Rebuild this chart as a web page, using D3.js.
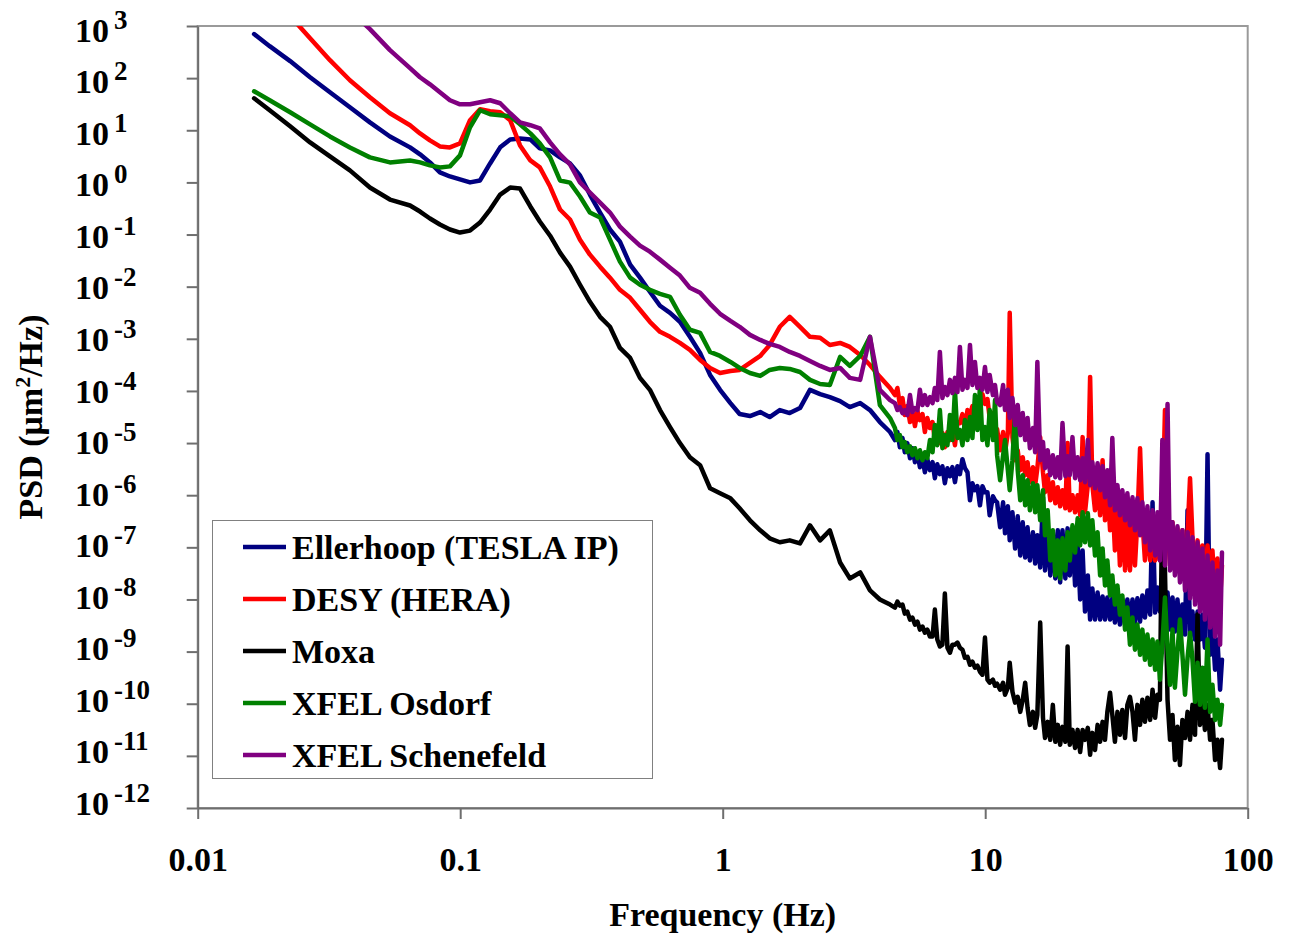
<!DOCTYPE html>
<html>
<head>
<meta charset="utf-8">
<title>PSD</title>
<script src="https://cdn.jsdelivr.net/npm/d3@7"></script>
<style>
  body { margin: 0; background: #fff; }
  svg { display: block; }
  text { font-family: "Times New Roman", "Liberation Serif", serif; font-weight: bold; fill: #000; }
</style>
</head>
<body>
<div id="chart"></div>
<script>
// frequency (Hz), shared by all five series
var freq = [0.0164, 0.0188, 0.0225, 0.0268, 0.0319, 0.038, 0.0453, 0.054, 0.0644, 0.0703,
  0.0767, 0.0837, 0.0914, 0.0998, 0.109, 0.119, 0.130, 0.142, 0.155, 0.169,
  0.185, 0.201, 0.220, 0.240, 0.262, 0.286, 0.312, 0.341, 0.372, 0.406,
  0.444, 0.484, 0.528, 0.577, 0.630, 0.687, 0.750, 0.820, 0.895, 0.977,
  1.07, 1.16, 1.27, 1.39, 1.51, 1.65, 1.80, 1.97, 2.15, 2.35,
  2.56, 2.80, 3.05, 3.34, 3.64, 3.97, 4.34, 4.53, 4.63, 4.73, 4.84, 4.94, 5.05,
  5.17, 5.28, 5.40, 5.52, 5.64, 5.77, 5.89, 6.02, 6.16, 6.30,
  6.43, 6.57, 6.72, 6.87, 7.02, 7.18, 7.34, 7.50, 7.67, 7.84,
  8.01, 8.19, 8.37, 8.56, 8.75, 8.94, 9.14, 9.34, 9.55, 9.76,
  9.98, 10.2, 10.4, 10.7, 10.9, 11.1,
  11.4, 11.7, 11.9, 12.2, 12.4, 12.7, 13.0, 13.3, 13.6, 13.9,
  14.2, 14.5, 14.8, 15.2, 15.5, 15.8, 16.2, 16.6, 16.9, 17.3,
  17.7, 18.1, 18.5, 18.9, 19.3, 19.7, 20.2, 20.6, 21.0, 21.5,
  22.0, 22.5, 23.0, 23.5, 24.0, 24.6, 25.1, 25.6, 26.2, 26.8,
  27.4, 28.0, 28.6, 29.2, 29.9, 30.5, 31.2, 31.9, 32.6, 33.3,
  34.1, 34.8, 35.6, 36.4, 37.2, 38.0, 38.9, 39.7, 40.6, 41.5,
  42.5, 43.4, 44.4, 45.3, 46.3, 47.3, 48.4, 49.5, 50.6, 51.7,
  52.8, 54.0, 55.2, 56.4, 57.7, 59.0, 60.3, 61.6, 63.0, 64.4,
  65.8, 67.2, 68.7, 70.3, 71.9, 73.4, 75.1, 76.7, 78.5, 79.8];

// PSD (um^2/Hz)
var ellerhoopPsd = [700, 410, 212, 104, 53.6, 27.6, 14.2, 7.6, 4.7, 3.45,
  2.42, 1.56, 1.30, 1.14, 1.0, 1.09, 2.31, 4.7, 6.68, 6.98,
  6.68, 4.49, 4.11, 3.02, 2.31, 1.36, 0.585, 0.264, 0.125, 0.073,
  0.0264, 0.0149, 7.97e-3, 4.3e-3, 3.15e-3, 2.12e-3, 1.09e-3, 5.36e-4, 2.03e-4, 1.05e-4,
  5.85e-5, 3.6e-5, 3.3e-5, 3.93e-5, 3.15e-5, 4.3e-5, 3.76e-5, 4.69e-5, 1.05e-4, 8.7e-5,
  7.62e-5, 6.39e-5, 4.9e-5, 5.85e-5, 4.3e-5, 2.53e-5, 1.63e-5, 1.14e-5, 1.63e-5, 8.33e-6, 1.25e-5, 6.68e-6, 1.0e-5,
  5.12e-6, 7.97e-6, 4.3e-6, 6.39e-6, 3.45e-6, 5.12e-6, 2.76e-6, 4.9e-6, 3.02e-6, 4.3e-6,
  2.12e-6, 3.93e-6, 2.53e-6, 3.6e-6, 1.7e-6, 3.3e-6, 2.31e-6, 3.45e-6, 1.78e-6, 3.6e-6,
  2.53e-6, 4.9e-6, 3.3e-6, 2.76e-6, 7.97e-7, 1.7e-6, 1.25e-6, 1.49e-6, 6.39e-7, 1.49e-6,
  1.14e-6, 1.14e-6, 4.11e-7, 9.51e-7, 7.97e-7, 7.3e-7,
  2.42e-7, 7.3e-7, 1.86e-7, 6.11e-7, 1.36e-7, 4.69e-7, 9.51e-8, 3.93e-7, 6.98e-8, 3.02e-7,
  6.39e-8, 2.42e-7, 5.6e-8, 1.94e-7, 4.9e-8, 1.7e-7, 4.11e-8, 9.1e-7, 3.6e-8, 2.12e-7,
  2.89e-8, 1.94e-7, 2.53e-8, 2.12e-7, 2.12e-8, 2.12e-7, 2.53e-8, 2.31e-7, 2.89e-8, 1.7e-7,
  1.86e-8, 1.25e-7, 1.0e-8, 8.7e-8, 5.85e-9, 2.89e-8, 4.11e-9, 1.63e-8, 4.11e-9, 1.36e-8,
  4.11e-9, 1.14e-8, 4.11e-9, 1.09e-8, 4.11e-9, 1.05e-8, 3.6e-9, 1.0e-8, 3.3e-9, 1.0e-8,
  3.3e-9, 1.0e-8, 3.3e-9, 1.0e-8, 3.6e-9, 1.05e-8, 3.76e-9, 1.19e-8, 4.49e-9, 1.49e-8,
  5.12e-9, 7.3e-7, 5.6e-9, 1.7e-8, 5.85e-9, 1.86e-8, 4.11e-9, 1.36e-8, 2.64e-9, 1.09e-8,
  2.42e-9, 1.0e-8, 2.42e-9, 7.97e-9, 2.12e-9, 5.12e-7, 1.86e-9, 5.85e-9, 1.7e-9, 5.85e-9,
  1.7e-9, 5.12e-9, 1.19e-9, 6.11e-6, 8.7e-10, 2.89e-9, 4.49e-10, 1.7e-9, 1.86e-10, 6.98e-10];

var desyPsd = [7.6e3, 3.6e3, 1.55e3, 585, 221, 91, 43, 21.2, 12.5, 8.7,
  6.39, 4.9, 4.69, 5.6, 15.6, 25.3, 23.1, 22.1, 15.6, 5.12,
  2.64, 1.94, 0.833, 0.302, 0.194, 0.0797, 0.0411, 0.0242, 0.0149, 8.7e-3,
  6.11e-3, 3.6e-3, 2.12e-3, 1.36e-3, 1.09e-3, 8.33e-4, 6.11e-4, 3.93e-4, 2.76e-4, 2.21e-4,
  2.42e-4, 2.53e-4, 3.45e-4, 4.69e-4, 7.62e-4, 1.7e-3, 2.64e-3, 1.7e-3, 1.09e-3, 1.05e-3,
  7.62e-4, 8.33e-4, 6.98e-4, 4.9e-4, 3.15e-4, 1.86e-4, 1.14e-4, 8.33e-5, 1.14e-4, 5.36e-5, 7.3e-5, 3.45e-5, 5.12e-5,
  2.53e-5, 3.93e-5, 2.12e-5, 4.11e-5, 2.76e-5, 3.6e-5, 1.63e-5, 3.02e-5, 1.94e-5, 2.53e-5,
  1.14e-5, 1.78e-5, 1.0e-5, 1.56e-5, 8.33e-6, 1.63e-5, 1.14e-5, 1.78e-5, 9.1e-6, 2.53e-5,
  2.42e-5, 3.6e-5, 1.78e-5, 4.3e-5, 3.45e-5, 5.12e-5, 2.76e-5, 6.11e-5, 4.9e-5, 8.7e-5,
  5.6e-5, 6.98e-5, 3.02e-5, 3.76e-5, 1.63e-5, 1.86e-5,
  7.3e-6, 1.63e-5, 6.68e-6, 1.56e-5, 3.15e-3, 1.3e-5, 4.69e-6, 7.3e-6, 3.02e-6, 5.36e-6,
  2.42e-6, 4.3e-6, 1.78e-6, 3.45e-6, 1.56e-6, 3.3e-6, 1.3e-5, 2.76e-6, 1.14e-6, 2.42e-6,
  7.97e-7, 1.78e-6, 6.98e-7, 1.42e-6, 6.11e-7, 1.25e-6, 5.6e-7, 1.0e-5, 5.12e-7, 1.0e-6,
  4.69e-7, 1.0e-6, 4.11e-7, 1.3e-5, 4.69e-7, 1.56e-6, 1.86e-4, 1.56e-6, 5.12e-7, 1.78e-6,
  4.11e-7, 4.69e-6, 3.3e-7, 1.56e-6, 2.12e-7, 1.0e-6, 8.7e-8, 6.39e-7, 4.49e-8, 4.69e-7,
  3.6e-8, 3.3e-7, 3.6e-8, 3.3e-7, 4.49e-8, 3.3e-7, 7.97e-6, 3.3e-7, 5.6e-8, 3.02e-7,
  5.6e-8, 2.64e-7, 5.6e-8, 3.02e-7, 5.6e-8, 3.3e-7, 4.3e-5, 3.3e-7, 4.49e-8, 3.02e-7,
  3.93e-8, 2.31e-7, 3.6e-8, 2.12e-7, 3.3e-8, 1.86e-7, 2.12e-6, 1.56e-7, 2.53e-8, 1.36e-7,
  2.31e-8, 1.09e-7, 2.03e-8, 1.09e-7, 1.86e-8, 8.7e-8, 1.36e-8, 6.11e-8, 1.0e-8, 4.49e-8];

var moxaPsd = [41, 24.2, 11.9, 5.85, 3.15, 1.7, 0.797, 0.469, 0.36, 0.276,
  0.203, 0.156, 0.125, 0.109, 0.119, 0.17, 0.302, 0.585, 0.797, 0.762,
  0.345, 0.178, 0.095, 0.0449, 0.0242, 0.0109, 5.12e-3, 2.64e-3, 1.7e-3, 6.68e-4,
  4.3e-4, 1.78e-4, 1.05e-4, 4.3e-5, 2.03e-5, 1.0e-5, 5.36e-6, 3.76e-6, 1.36e-6, 1.09e-6,
  8.7e-7, 5.6e-7, 3.3e-7, 2.12e-7, 1.49e-7, 1.25e-7, 1.36e-7, 1.19e-7, 2.64e-7, 1.36e-7,
  2.12e-7, 5.12e-8, 2.53e-8, 3.3e-8, 1.49e-8, 1.0e-8, 7.97e-9, 6.98e-9, 9.1e-9, 7.62e-9, 7.97e-9, 5.36e-9, 5.85e-9,
  4.11e-9, 4.49e-9, 3.3e-9, 3.76e-9, 2.64e-9, 3.02e-9, 2.31e-9, 2.64e-9, 1.94e-9, 1.94e-9,
  6.39e-9, 1.7e-9, 1.25e-9, 1.36e-9, 1.3e-8, 1.19e-9, 9.51e-10, 1.36e-9, 1.36e-9, 1.49e-9,
  1.19e-9, 1.09e-9, 7.62e-10, 7.97e-10, 5.6e-10, 6.39e-10, 4.9e-10, 5.36e-10, 4.11e-10, 3.6e-10,
  1.86e-9, 2.89e-10, 2.53e-10, 2.89e-10, 2.21e-10, 2.42e-10,
  1.86e-10, 2.53e-10, 1.49e-10, 2.03e-10, 6.11e-10, 1.7e-10, 1.05e-10, 1.36e-10, 6.98e-11, 1.19e-10,
  2.53e-10, 8.33e-11, 3.93e-11, 6.98e-11, 3.45e-11, 6.11e-11, 3.6e-9, 5.36e-11, 2.21e-11, 4.49e-11,
  2.03e-11, 9.51e-11, 1.86e-11, 3.93e-11, 1.63e-11, 3.6e-11, 1.86e-11, 1.25e-9, 1.63e-11, 3.15e-11,
  1.42e-11, 3.15e-11, 1.19e-11, 3.15e-11, 2.03e-11, 3.45e-11, 1.05e-11, 2.76e-11, 1.3e-11, 3.93e-11,
  1.86e-11, 4.49e-11, 2.03e-11, 6.98e-11, 1.63e-10, 6.11e-11, 1.86e-11, 6.98e-11, 2.53e-11, 7.62e-11,
  2.21e-11, 9.51e-11, 1.36e-10, 6.98e-11, 2.03e-11, 9.51e-11, 3.93e-11, 1.19e-10, 4.49e-11, 1.3e-10,
  4.9e-11, 1.86e-10, 5.36e-11, 1.49e-10, 1.19e-10, 1.78e-6, 3.6e-8, 1.19e-10, 2.03e-11, 6.11e-11,
  8.33e-12, 3.6e-11, 6.68e-12, 4.9e-11, 2.21e-11, 6.98e-11, 2.03e-11, 9.51e-11, 2.53e-11, 5.12e-9,
  3.93e-11, 1.19e-10, 3.15e-11, 9.51e-11, 2.03e-11, 4.9e-11, 8.33e-12, 2.03e-11, 5.85e-12, 2.03e-11];

var osdorfPsd = [56, 37.6, 22.1, 13.0, 7.62, 4.69, 3.02, 2.42, 2.64, 2.42,
  2.12, 1.94, 2.03, 3.3, 11.4, 24.2, 20.3, 19.4, 18.6, 13.0,
  8.7, 5.6, 3.02, 1.09, 0.99, 0.536, 0.264, 0.212, 0.0797, 0.0302,
  0.0149, 0.0109, 8.7e-3, 7.3e-3, 6.39e-3, 2.89e-3, 1.49e-3, 1.3e-3, 5.6e-4, 4.69e-4,
  3.6e-4, 2.76e-4, 2.21e-4, 1.94e-4, 2.53e-4, 2.76e-4, 2.64e-4, 2.31e-4, 1.63e-4, 1.36e-4,
  1.3e-4, 4.49e-4, 3.02e-4, 4.69e-4, 1.09e-3, 5.36e-5, 3.02e-5, 1.94e-5, 1.14e-5, 1.42e-5, 8.33e-6, 1.05e-5, 6.68e-6,
  8.7e-6, 5.85e-6, 7.97e-6, 5.12e-6, 7.3e-6, 4.69e-6, 6.68e-6, 5.12e-6, 1.14e-5, 6.68e-6,
  2.21e-5, 9.1e-6, 4.3e-5, 7.97e-6, 1.42e-5, 9.1e-6, 3.45e-5, 1.14e-5, 1.05e-4, 1.25e-5,
  1.78e-5, 9.1e-6, 2.76e-5, 1.14e-5, 3.15e-5, 1.25e-5, 8.33e-5, 1.78e-5, 1.19e-4, 1.14e-5,
  2.03e-5, 9.1e-6, 4.3e-5, 1.14e-5, 6.68e-5, 5.85e-6,
  1.94e-6, 5.85e-6, 1.14e-5, 3.02e-6, 1.25e-6, 4.69e-6, 4.3e-5, 3.02e-6, 7.97e-7, 2.42e-6,
  6.39e-7, 1.94e-6, 5.12e-7, 1.7e-6, 4.69e-7, 1.56e-6, 3.3e-7, 1.25e-6, 1.7e-7, 5.12e-7,
  5.6e-8, 2.12e-7, 2.89e-8, 1.36e-7, 2.53e-8, 1.49e-7, 3.6e-8, 1.94e-7, 5.6e-8, 2.64e-7,
  7.97e-8, 3.6e-7, 1.09e-7, 4.69e-7, 1.25e-7, 4.49e-7, 1.09e-7, 3.3e-7, 6.98e-8, 1.94e-7,
  2.89e-8, 9.51e-8, 1.86e-8, 5.6e-8, 1.19e-8, 2.89e-8, 7.97e-9, 1.86e-8, 5.12e-9, 1.19e-8,
  2.64e-9, 6.98e-9, 1.36e-9, 4.49e-9, 1.09e-9, 3.3e-9, 8.7e-10, 2.64e-9, 6.98e-10, 2.12e-9,
  5.6e-10, 1.7e-9, 4.49e-10, 1.56e-9, 2.89e-10, 1.36e-9, 1.09e-8, 1.19e-9, 2.31e-10, 2.64e-9,
  2.03e-10, 1.0e-9, 4.11e-9, 8.7e-10, 1.49e-10, 7.62e-10, 2.31e-9, 6.98e-10, 1.09e-10, 6.11e-10,
  9.51e-11, 4.9e-10, 8.33e-11, 1.7e-9, 6.98e-11, 2.31e-10, 4.9e-11, 1.19e-10, 3.93e-11, 9.51e-11];

var schenefeldPsd = [1.0e5, 5.4e4, 2.2e4, 9.5e3, 4.3e3, 2.0e3, 870, 345, 156, 104,
  76, 53.6, 37.6, 31.5, 31.5, 34.5, 37.6, 33, 21.2, 14.2,
  12.5, 10.9, 5.85, 3.45, 2.21, 1.0, 0.639, 0.411, 0.264, 0.142,
  0.091, 0.0611, 0.0469, 0.033, 0.0231, 0.0163, 9.51e-3, 7.62e-3, 4.69e-3, 3.02e-3,
  2.21e-3, 1.7e-3, 1.19e-3, 9.51e-4, 7.97e-4, 6.98e-4, 5.6e-4, 4.69e-4, 3.76e-4, 3.02e-4,
  2.53e-4, 2.76e-4, 1.78e-4, 1.63e-4, 1.09e-3, 1.05e-4, 6.68e-5, 5.85e-5, 4.3e-5, 4.9e-5, 3.76e-5, 4.3e-5, 3.45e-5,
  8.33e-5, 3.93e-5, 4.69e-5, 4.3e-5, 1.05e-4, 5.36e-5, 8.33e-5, 5.36e-5, 7.62e-5, 5.85e-5,
  1.14e-4, 6.68e-5, 5.6e-4, 7.3e-5, 1.19e-4, 8.33e-5, 1.63e-4, 9.1e-5, 1.78e-4, 9.51e-5,
  6.98e-4, 1.05e-4, 1.63e-4, 1.14e-4, 7.62e-4, 1.3e-4, 3.6e-4, 1.14e-4, 1.78e-4, 1.05e-4,
  2.89e-4, 9.51e-5, 2.03e-4, 8.33e-5, 1.3e-4, 6.11e-5,
  5.36e-5, 1.3e-4, 4.3e-5, 1.05e-4, 3.02e-5, 7.3e-5, 2.21e-5, 5.36e-5, 1.42e-5, 3.76e-5,
  1.14e-5, 3.02e-5, 7.97e-6, 1.94e-5, 6.68e-6, 3.6e-4, 4.69e-6, 1.05e-5, 3.3e-6, 7.3e-6,
  2.42e-6, 5.85e-6, 2.21e-6, 5.36e-6, 2.12e-6, 2.42e-5, 2.31e-6, 5.6e-6, 2.42e-6, 1.3e-5,
  2.12e-6, 5.36e-6, 1.94e-6, 5.12e-6, 1.78e-6, 1.14e-5, 1.56e-6, 4.3e-6, 1.36e-6, 4.11e-6,
  1.25e-6, 3.6e-6, 9.1e-7, 3.02e-6, 6.39e-7, 1.25e-5, 5.12e-7, 1.56e-6, 4.11e-7, 1.25e-6,
  3.3e-7, 1.09e-6, 2.64e-7, 9.1e-7, 2.12e-7, 8.7e-7, 1.7e-7, 7.3e-7, 1.25e-7, 6.11e-7,
  8.7e-8, 5.12e-7, 6.98e-8, 4.69e-7, 5.6e-8, 1.14e-5, 4.49e-8, 5.6e-5, 3.6e-8, 3.02e-7,
  2.89e-8, 2.53e-7, 2.12e-8, 2.12e-7, 1.49e-8, 1.94e-7, 1.05e-8, 1.56e-7, 7.97e-9, 1.25e-7,
  5.85e-9, 9.51e-8, 4.11e-9, 6.98e-8, 2.89e-9, 5.12e-8, 1.94e-9, 3.6e-8, 1.36e-9, 7.97e-8];

var seriesNames = ["Ellerhoop (TESLA IP)", "DESY (HERA)", "Moxa", "XFEL Osdorf", "XFEL Schenefeld"];
var seriesColors = ["#000080", "#ff0000", "#000000", "#008000", "#800080"];
var xTicks = [0.01, 0.1, 1, 10, 100];
var xTickLabels = ["0.01", "0.1", "1", "10", "100"];
var yExponents = [3, 2, 1, 0, -1, -2, -3, -4, -5, -6, -7, -8, -9, -10, -11, -12];

function drawChart() {
  var width = 1291, height = 935;
  var left = 197.7, right = 1247.7, top = 26, bottom = 808;

  var svg = d3.select("#chart").append("svg")
    .attr("width", width)
    .attr("height", height);

  var x = d3.scaleLog().domain([0.01, 100]).range([left, right]);
  var y = d3.scaleLog().domain([1e-12, 1e3]).range([bottom, top]);

  svg.append("defs").append("clipPath")
    .attr("id", "plotClip")
    .append("rect")
    .attr("x", left).attr("y", top)
    .attr("width", right - left).attr("height", bottom - top);

  // plot frame (light grey on top / right)
  svg.append("rect")
    .attr("x", left).attr("y", top)
    .attr("width", right - left).attr("height", bottom - top)
    .attr("fill", "none")
    .attr("stroke", "#9a9a9a")
    .attr("stroke-width", 2);

  // series, Schenefeld ends up on top
  var allSeries = [ellerhoopPsd, desyPsd, moxaPsd, osdorfPsd, schenefeldPsd];
  var line = d3.line()
    .x(function(d) { return x(d[0]); })
    .y(function(d) { return y(d[1]); });

  var lines = svg.append("g").attr("clip-path", "url(#plotClip)");
  allSeries.forEach(function(vals, i) {
    var pts = freq.map(function(f, k) { return [f, vals[k]]; });
    lines.append("path")
      .attr("d", line(pts))
      .attr("fill", "none")
      .attr("stroke", seriesColors[i])
      .attr("stroke-width", 4.5)
      .attr("stroke-linejoin", "round")
      .attr("stroke-linecap", "round");
  });

  // y axis
  var yTickVals = yExponents.map(function(e) { return Math.pow(10, e); });
  var yAxis = svg.append("g")
    .attr("transform", "translate(" + left + ",0)")
    .call(d3.axisLeft(y).tickValues(yTickVals).tickSize(11).tickSizeOuter(0).tickFormat(""));
  yAxis.selectAll("path, line").attr("stroke", "#6e6e6e").attr("stroke-width", 2);

  // labels drift slightly from the ticks in the original, like Excel does
  yExponents.forEach(function(e) {
    var base = 41.7 + (y(Math.pow(10, e)) - top) * 0.9889;
    var t = svg.append("text")
      .attr("x", 75)
      .attr("y", base)
      .style("font-size", "34px");
    t.append("tspan").text("10");
    t.append("tspan")
      .attr("x", 114)
      .attr("dy", -13)
      .style("font-size", "27px")
      .text(String(e));
  });

  // x axis
  var xAxis = svg.append("g")
    .attr("transform", "translate(0," + bottom + ")")
    .call(d3.axisBottom(x).tickValues(xTicks).tickSize(11).tickSizeOuter(0)
      .tickPadding(28)
      .tickFormat(function(d, i) { return xTickLabels[i]; }));
  xAxis.selectAll("path, line").attr("stroke", "#6e6e6e").attr("stroke-width", 2);
  xAxis.selectAll("text")
    .style("font-family", "'Times New Roman', 'Liberation Serif', serif")
    .style("font-weight", "bold")
    .style("font-size", "34px")
    .attr("fill", "#000");

  // axis titles
  svg.append("text")
    .attr("x", (left + right) / 2)
    .attr("y", 926)
    .attr("text-anchor", "middle")
    .style("font-size", "34px")
    .text("Frequency (Hz)");

  var yt = svg.append("text")
    .attr("transform", "translate(42,417) rotate(-90)")
    .attr("text-anchor", "middle")
    .style("font-size", "34px");
  yt.append("tspan").text("PSD (\u03bcm");
  yt.append("tspan").attr("dy", -12).style("font-size", "22px").text("2");
  yt.append("tspan").attr("dy", 12).text("/Hz)");

  // legend
  var lg = svg.append("g");
  lg.append("rect")
    .attr("x", 212.5).attr("y", 520.5)
    .attr("width", 440).attr("height", 258)
    .attr("fill", "#fff")
    .attr("stroke", "#808080")
    .attr("stroke-width", 1);
  seriesNames.forEach(function(name, i) {
    var ly = 547 + i * 52;
    lg.append("line")
      .attr("x1", 243).attr("x2", 286)
      .attr("y1", ly).attr("y2", ly)
      .attr("stroke", seriesColors[i])
      .attr("stroke-width", 4.5);
    lg.append("text")
      .attr("x", 292)
      .attr("y", ly + 12)
      .style("font-size", "34px")
      .text(name);
  });
}

drawChart();
</script>
</body>
</html>
